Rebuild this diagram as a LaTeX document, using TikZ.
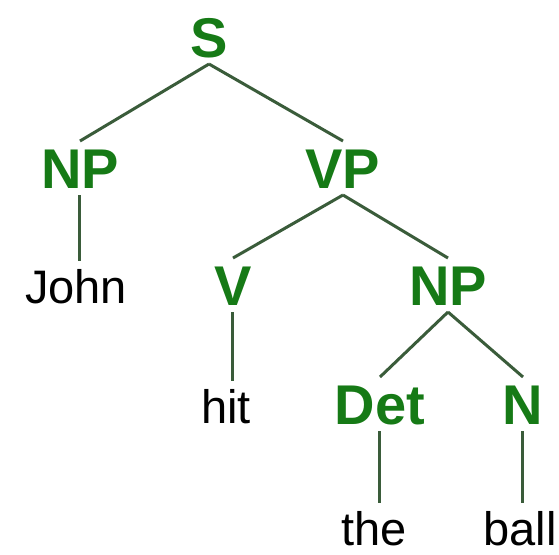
\documentclass[tikz,border=0pt]{standalone}
\usepackage{fontspec}
\setmainfont{Liberation Sans}
\usepackage{tikz}
\definecolor{catgreen}{RGB}{22,122,22}
\definecolor{branchgray}{RGB}{58,92,58}
\tikzset{cat/.style={text=catgreen, font=\fontsize{28}{30}\selectfont\bfseries, text height=20pt, text depth=0pt, inner sep=3.5pt, outer sep=0pt}}
\tikzset{word/.style={text=black, font=\fontsize{23.5}{26}\selectfont, text height=17pt, text depth=0pt, inner sep=4pt, outer sep=0pt}}
\tikzset{branch/.style={draw=branchgray, line width=1.5pt}}

\begin{document}
\begin{tikzpicture}[x=0.5pt,y=0.5pt]
		\useasboundingbox (0,0) rectangle (559,-554);
		\node[cat] (s) at (209,-37) {S};
		\node[cat] (np) at (80,-168) {NP};
		\node[cat] (vp) at (343,-168) {VP};
		\node[word] (john) at (76,-286) {John};
		\node[cat] (v) at (233,-285) {V};
		\node[cat] (obj) at (448,-285) {NP};
		\node[word] (hit) at (226,-406) {hit};
		\node[cat] (det) at (380,-404) {Det};
		\node[cat] (n) at (523,-404) {N};
		\node[word] (the) at (374,-528) {the};
		\node[word] (ball) at (520,-528) {ball};
		% branching edges
		\foreach \p/\c in {s/np,s/vp,vp/v,vp/obj,obj/det,obj/n}
			\draw[branch] (\p.south) -- (\c.north);
		% unary edges down to the words
		\foreach \p/\c in {np/john,v/hit,det/the,n/ball}
			\draw[branch] (\p.south) -- (\p.south |- \c.north);
\end{tikzpicture}
\end{document}
